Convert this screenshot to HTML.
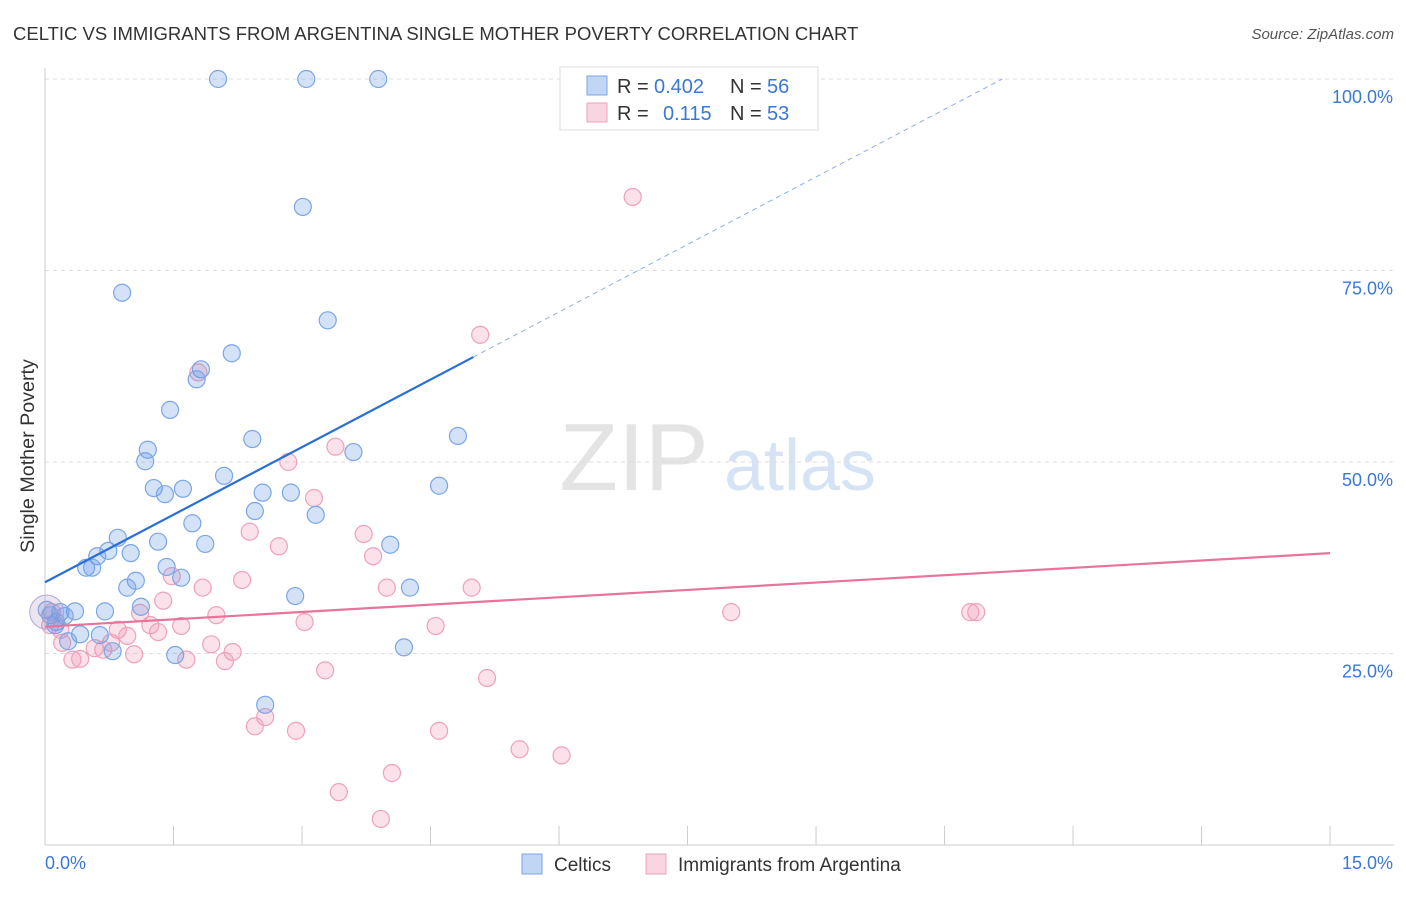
<!DOCTYPE html>
<html><head><meta charset="utf-8">
<style>
body{margin:0;background:#fff;font-family:"Liberation Sans",sans-serif;}
svg text{font-family:"Liberation Sans",sans-serif;}
</style></head>
<body>
<svg id="chart" width="1406" height="892" xmlns="http://www.w3.org/2000/svg">
<text x="13" y="40" font-size="18.5" fill="#333">CELTIC VS IMMIGRANTS FROM ARGENTINA SINGLE MOTHER POVERTY CORRELATION CHART</text>
<text x="1394" y="39" font-size="15" fill="#555" text-anchor="end" font-style="italic">Source: ZipAtlas.com</text>
<text x="34" y="456" font-size="19.7" fill="#333" text-anchor="middle" transform="rotate(-90 34 456)">Single Mother Poverty</text>
<g>
<text x="634" y="490" font-size="96" fill="#e4e4e4" text-anchor="middle" font-family="Liberation Serif,serif">ZIP</text>
<text x="800" y="490" font-size="72" fill="#d6e3f5" text-anchor="middle">atlas</text>
</g>
<g id="grid"></g>
<g id="axes"></g>
<g id="marks"></g>
<g>
<rect x="560" y="67" width="258" height="63" fill="#fff" stroke="#ddd"/>
<rect x="587" y="76" width="20" height="19" fill="rgba(100,150,230,0.4)" stroke="#7aa6e6"/>
<text x="617" y="93" font-size="20" fill="#333">R =</text><text x="654" y="93" font-size="20" fill="#3a78d6">0.402</text>
<text x="730" y="93" font-size="20" fill="#333">N =</text><text x="767" y="93" font-size="20" fill="#3a78d6">56</text>
<rect x="587" y="103" width="20" height="19" fill="rgba(240,150,180,0.4)" stroke="#f0a0bc"/>
<text x="617" y="120" font-size="20" fill="#333">R =</text><text x="663" y="120" font-size="20" fill="#3a78d6">0.115</text>
<text x="730" y="120" font-size="20" fill="#333">N =</text><text x="767" y="120" font-size="20" fill="#3a78d6">53</text>
</g>
<g>
<rect x="522" y="854" width="20" height="20" fill="rgba(100,150,230,0.4)" stroke="#7aa6e6"/>
<text x="554" y="871" font-size="19" fill="#333">Celtics</text>
<rect x="646" y="854" width="20" height="20" fill="rgba(240,150,180,0.4)" stroke="#f0a0bc"/>
<text x="678" y="871" font-size="19" fill="#333">Immigrants from Argentina</text>
</g>
</svg>
<script>
const xTickLabels=["0.0%","15.0%"];
const yTicks=[25,50,75,100];
const yTickLabels=["25.0%","50.0%","75.0%","100.0%"];
const celticX=[2.02,3.05,3.89,3.01,0.90,3.30,2.18,1.82,1.77,1.46,2.42,1.20,1.17,3.60,4.82,2.09,1.27,1.61,1.40,2.54,2.87,4.60,2.45,3.16,1.72,0.85,1.32,1.87,4.03,0.74,0.61,1.00,0.48,0.55,1.42,1.06,1.59,0.96,4.26,2.92,1.12,0.70,0.35,0.18,0.23,0.02,0.13,0.41,0.64,0.27,0.79,1.52,4.19,2.57,0.06,0.12];
const celticY=[100,100,100,83.3,72.1,68.5,64.2,62.1,60.8,56.8,53.0,51.6,50.1,51.3,53.4,48.2,46.6,46.5,45.8,46.0,46.0,46.9,43.6,43.1,42.0,40.1,39.6,39.3,39.2,38.4,37.7,38.1,36.2,36.2,36.3,34.5,34.9,33.6,33.6,32.5,31.1,30.5,30.5,30.4,29.9,30.7,29.1,27.5,27.4,26.6,25.3,24.8,25.8,18.3,30.0,28.7];
const argX=[6.86,5.08,1.79,3.39,2.84,3.14,2.39,3.72,2.73,3.83,1.48,2.30,3.99,4.98,1.84,1.38,2.00,1.11,8.01,10.80,10.87,3.03,1.23,1.59,4.56,0.85,1.32,0.96,0.18,0.06,0.20,0.77,0.58,0.68,1.94,2.19,1.04,0.32,0.41,1.65,2.10,3.27,5.16,2.57,2.45,2.93,4.60,5.54,6.03,4.05,3.43,3.92,0.08];
const argY=[84.6,66.6,61.7,52.0,50.0,45.3,40.9,40.6,39.0,37.7,35.1,34.6,33.6,33.6,33.6,31.9,30.0,30.3,30.4,30.4,30.4,29.1,28.7,28.6,28.6,28.1,27.8,27.3,28.1,28.7,26.4,26.4,25.7,25.5,26.2,25.2,24.9,24.2,24.3,24.2,24.0,22.8,21.8,16.7,15.5,14.9,14.9,12.5,11.7,9.4,6.9,3.4,30.4];
const celticTrend=[34.3,5.88];
const argTrend=[28.5,0.64];

const NS="http://www.w3.org/2000/svg";
const sx=v=>45+v*85.67;
const sy=v=>845-v*7.66;
function mk(tag,attrs,parent){const e=document.createElementNS(NS,tag);for(const k in attrs)e.setAttribute(k,attrs[k]);document.getElementById(parent).appendChild(e);return e;}

yTicks.forEach((t,i)=>{
  const l=mk('line',{x1:45,x2:1394,y1:sy(t),y2:sy(t),stroke:'#ddd','stroke-dasharray':'4,4'},'grid');
  
  
  const tx=mk('text',{x:1393,y:sy(t)+24,'font-size':18,fill:'#3a78d6','text-anchor':'end'},'grid');
  tx.textContent=yTickLabels[i];
  
  
});
const ax=mk('line',{x1:45,x2:1394,y1:845,y2:845,stroke:'#ccc'},'axes');


const ay=mk('line',{x1:45,x2:45,y1:68,y2:845,stroke:'#ccc'},'axes');


for(let i=0;i<=10;i++){
  const t=mk('line',{x1:sx(i*1.5),x2:sx(i*1.5),y1:826,y2:845,stroke:'#ccc'},'axes');
  
  
}
const xl0=mk('text',{x:45,y:869,'font-size':18,fill:'#3a78d6'},'axes');xl0.textContent=xTickLabels[0];


const xl1=mk('text',{x:1393,y:869,'font-size':18,fill:'#3a78d6','text-anchor':'end'},'axes');xl1.textContent=xTickLabels[1];



argX.forEach((x,i)=>{
  const c=mk('circle',{cx:sx(x),cy:sy(argY[i]),r:8.5,fill:'rgba(240,150,180,0.28)',stroke:'#f0a0bc','stroke-width':1.2},'marks');
  
  
});
celticX.forEach((x,i)=>{
  const c=mk('circle',{cx:sx(x),cy:sy(celticY[i]),r:8.5,fill:'rgba(100,150,230,0.28)',stroke:'#7aa6e6','stroke-width':1.2},'marks');
  
  
});
const big=mk('circle',{cx:sx(0.02),cy:sy(30.4),r:17,fill:'rgba(170,150,200,0.25)',stroke:'#b0a8d8'},'marks');



const bEnd=5.0, dEnd=(100-celticTrend[0])/celticTrend[1];
const bl=mk('line',{x1:sx(0),y1:sy(celticTrend[0]),x2:sx(bEnd),y2:sy(celticTrend[0]+celticTrend[1]*bEnd),stroke:'#2a6fd6','stroke-width':2.2},'marks');


const bd=mk('line',{x1:sx(bEnd),y1:sy(celticTrend[0]+celticTrend[1]*bEnd),x2:sx(dEnd),y2:sy(100),stroke:'#8ab0e6','stroke-width':1,'stroke-dasharray':'5,4'},'marks');


const pl=mk('line',{x1:sx(0),y1:sy(argTrend[0]),x2:sx(15),y2:sy(argTrend[0]+argTrend[1]*15),stroke:'#e8739c','stroke-width':2.2},'marks');


</script>
</body></html>
